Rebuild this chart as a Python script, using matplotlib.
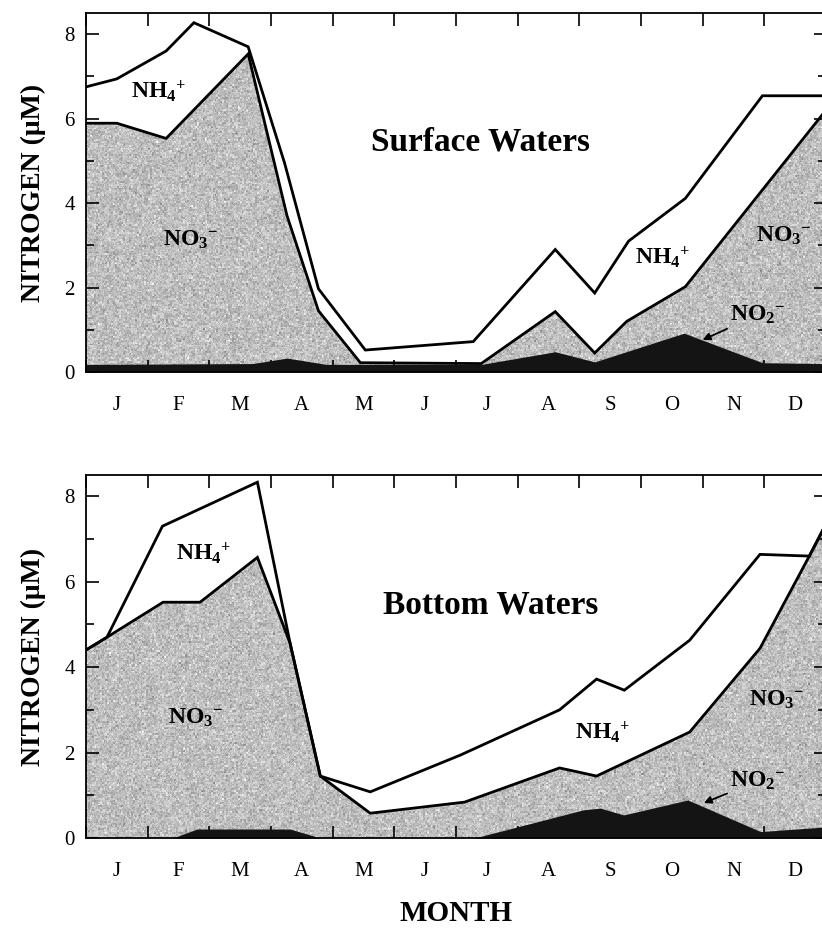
import numpy as np
import matplotlib
matplotlib.use("Agg")
import matplotlib.pyplot as plt
from matplotlib.patches import Polygon

plt.rcParams['font.family'] = ['Liberation Serif', 'DejaVu Serif']
plt.rcParams['mathtext.fontset'] = 'custom'
plt.rcParams['mathtext.rm'] = 'Liberation Serif:bold'
plt.rcParams['mathtext.it'] = 'Liberation Serif:bold'
plt.rcParams['mathtext.bf'] = 'Liberation Serif:bold'

# ---- data (months since 1 January; concentrations in µM, cumulative curves) ----
month_labels = ['J', 'F', 'M', 'A', 'M', 'J', 'J', 'A', 'S', 'O', 'N', 'D']

# Surface waters
surf_total_t = [0, 0.5, 1.3, 1.75, 2.63, 3.22, 3.77, 4.53, 6.28, 7.61, 8.25, 8.8, 9.72, 10.97, 12.0]
surf_total = [6.75, 6.94, 7.6, 8.27, 7.7, 4.95, 1.97, 0.52, 0.72, 2.9, 1.87, 3.1, 4.11, 6.54, 6.54]
surf_no3_t = [0, 0.5, 1.3, 2.63, 3.26, 3.77, 4.45, 6.41, 7.61, 8.25, 8.77, 9.72, 12.0]
surf_no3 = [5.89, 5.89, 5.53, 7.53, 3.7, 1.45, 0.22, 0.2, 1.43, 0.45, 1.2, 2.02, 6.2]
surf_no2_t = [0, 2.7, 3.26, 3.9, 6.41, 7.61, 8.25, 9.7, 10.97, 12.0]
surf_no2 = [0.18, 0.2, 0.33, 0.18, 0.18, 0.48, 0.24, 0.92, 0.22, 0.2]

# Bottom waters
bot_total_t = [0, 0.34, 1.24, 2.78, 3.31, 3.8, 4.61, 6.07, 7.68, 8.28, 8.73, 9.79, 10.93, 11.73, 12.0]
bot_total = [4.40, 4.70, 7.30, 8.33, 4.56, 1.45, 1.08, 1.94, 3.0, 3.72, 3.46, 4.63, 6.64, 6.6, 7.35]
bot_no3_t = [0, 0.34, 1.25, 1.85, 2.78, 3.31, 3.8, 4.61, 6.14, 7.68, 8.28, 9.79, 10.93, 11.73, 12.0]
bot_no3 = [4.40, 4.70, 5.52, 5.52, 6.57, 4.56, 1.45, 0.58, 0.84, 1.64, 1.45, 2.48, 4.44, 6.6, 7.35]
bot_no2_t = [0, 1.41, 1.8, 3.31, 3.8, 6.3, 8.07, 8.34, 8.72, 9.76, 10.94, 12.0]
bot_no2 = [0, 0, 0.21, 0.21, 0, 0, 0.66, 0.70, 0.54, 0.89, 0.15, 0.26]

YMAX = 8.5

fig = plt.figure(figsize=(8.22, 9.34), dpi=100)
ax1 = fig.add_axes([0.1046, 0.6017, 0.9002, 0.3844])
ax2 = fig.add_axes([0.1046, 0.1028, 0.9002, 0.3887])

grain = np.random.default_rng(11)


def stipple(ax, t, y):
    """Grey speckled fill under the nitrate curve."""
    verts = [(t[0], 0)] + list(zip(t, y)) + [(t[-1], 0)]
    poly = Polygon(verts, closed=True, facecolor='none', edgecolor='none',
                   transform=ax.transData)
    ax.add_patch(poly)
    coarse = grain.standard_normal((190, 380))
    coarse = np.kron(coarse, np.ones((2, 2)))
    fine = grain.standard_normal((380, 760))
    tex = np.clip(0.745 + 0.055 * coarse + 0.04 * fine, 0, 1)
    im = ax.imshow(tex, extent=(0, 12, 0, YMAX), aspect='auto', cmap='gray',
                   vmin=0, vmax=1, interpolation='nearest', origin='lower',
                   zorder=1)
    im.set_clip_path(poly)


def panel(ax, tot_t, tot, no3_t, no3, no2_t, no2):
    stipple(ax, no3_t, no3)
    ax.fill_between(no2_t, 0, no2, color='#141414', lw=0, zorder=2)
    ax.plot(no3_t, no3, color='black', lw=2.0, zorder=3, solid_joinstyle='miter')
    ax.plot(tot_t, tot, color='black', lw=2.0, zorder=3, solid_joinstyle='miter')
    ax.set_xlim(0, 12)
    ax.set_ylim(0, YMAX)
    ax.set_xticks(range(0, 13))
    ax.set_xticklabels([])
    ax.set_xticks(np.arange(0.5, 12, 1), minor=True)
    ax.set_xticklabels(month_labels, minor=True)
    ax.set_yticks([0, 2, 4, 6, 8])
    ax.set_yticks([1, 3, 5, 7], minor=True)
    ax.tick_params(axis='both', which='major', direction='in', top=True,
                   right=True, length=9, width=1.2, labelsize=15)
    ax.tick_params(axis='y', which='minor', direction='in', right=True,
                   length=6, width=1.2)
    ax.tick_params(axis='x', which='minor', length=0, pad=17, labelsize=15)
    ax.tick_params(axis='y', which='major', pad=8)
    for s in ax.spines.values():
        s.set_linewidth(1.3)
        s.set_zorder(5)
    ax.set_ylabel('NITROGEN (\u03bcM)', fontsize=20, fontweight='bold',
                  labelpad=13)


panel(ax1, surf_total_t, surf_total, surf_no3_t, surf_no3, surf_no2_t, surf_no2)
panel(ax2, bot_total_t, bot_total, bot_no3_t, bot_no3, bot_no2_t, bot_no2)

lab = dict(fontsize=17, fontweight='bold', ha='center', va='center', zorder=6)
ttl = dict(fontsize=24, fontweight='bold', ha='center', va='center', zorder=6)
arrow = dict(arrowstyle='-|>', color='black', lw=1.3, mutation_scale=11,
             shrinkA=0, shrinkB=0)

NH4 = r'NH$_{4}{}^{+}$'
NO3 = r'NO$_{3}{}^{-}$'
NO2 = r'NO$_{2}{}^{-}$'

# Surface waters annotations
ax1.text(1.17, 6.65, NH4, **lab)
ax1.text(1.69, 3.14, NO3, **lab)
ax1.text(6.4, 5.44, 'Surface Waters', **ttl)
ax1.text(9.35, 2.71, NH4, **lab)
ax1.text(11.31, 3.23, NO3, **lab)
ax1.annotate(NO2, xy=(10.0, 0.76), xytext=(10.89, 1.35),
             arrowprops=arrow, **lab)

# Bottom waters annotations
ax2.text(1.9, 6.67, NH4, **lab)
ax2.text(1.77, 2.81, NO3, **lab)
ax2.text(6.57, 5.45, 'Bottom Waters', **ttl)
ax2.text(8.38, 2.48, NH4, **lab)
ax2.text(11.2, 3.23, NO3, **lab)
ax2.annotate(NO2, xy=(10.02, 0.82), xytext=(10.89, 1.33),
             arrowprops=arrow, **lab)

ax2.set_xlabel('MONTH', fontsize=21, fontweight='bold', labelpad=14)

fig.savefig('out.png', dpi=100)
